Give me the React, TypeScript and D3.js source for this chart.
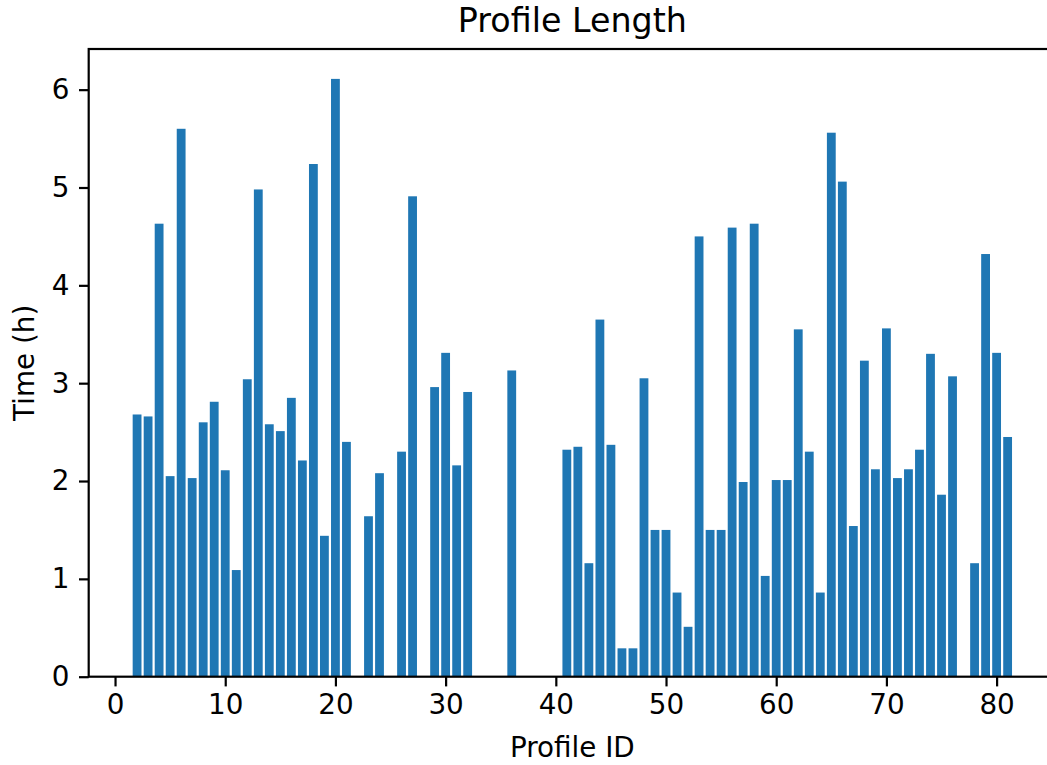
import React, { useRef, useEffect } from "react"
import * as d3 from "d3"

const chart_width = 1047
const chart_height = 765

// plot area (right edge runs a bit past the picture, like the reference)
const left = 88.7
const right = 1056
const top = 49
const bottom = 676.7

const profileIds = [
  2, 3, 4, 5, 6, 7, 8, 9, 10, 11, 12, 13, 14, 15, 16, 17, 18, 19, 20, 21,
  23, 24, 26, 27, 29, 30, 31, 32, 36,
  41, 42, 43, 44, 45, 46, 47, 48, 49, 50, 51, 52, 53, 54, 55, 56, 57, 58, 59, 60,
  61, 62, 63, 64, 65, 66, 67, 68, 69, 70, 71, 72, 73, 74, 75, 76, 78, 79, 80, 81,
]

const hours = [
  2.68, 2.66, 4.63, 2.05, 5.60, 2.03, 2.60, 2.81, 2.11, 1.09, 3.04, 4.98, 2.58, 2.51, 2.85, 2.21, 5.24, 1.44, 6.11, 2.40,
  1.64, 2.08, 2.30, 4.91, 2.96, 3.31, 2.16, 2.91, 3.13,
  2.32, 2.35, 1.16, 3.65, 2.37, 0.29, 0.29, 3.05, 1.50, 1.50, 0.86, 0.51, 4.50, 1.50, 1.50, 4.59, 1.99, 4.63, 1.03, 2.01,
  2.01, 3.55, 2.30, 0.86, 5.56, 5.06, 1.54, 3.23, 2.12, 3.56, 2.03, 2.12, 2.32, 3.30, 1.86, 3.07, 1.16, 4.32, 3.31, 2.45,
]

const xTicks = [0, 10, 20, 30, 40, 50, 60, 70, 80]
const yTicks = [0, 1, 2, 3, 4, 5, 6]

const barWidth = 0.8

const ProfileChart = () => {
  const d3Container = useRef(null)

  useEffect(() => {
    if (!d3Container.current) return
    const svg = d3.select(d3Container.current)
    svg.selectAll("*").remove()

    const data = profileIds.map((id, i) => [id, hours[i]])

    // matplotlib style 5% margins
    const xMin = d3.min(profileIds) - barWidth / 2
    const xMax = d3.max(profileIds) + barWidth / 2
    const xPad = (xMax - xMin) * 0.05
    const x_scale = d3
      .scaleLinear()
      .domain([xMin - xPad, xMax + xPad])
      .range([left, right])

    const yMax = d3.max(hours) * 1.05
    const y_scale = d3.scaleLinear().domain([0, yMax]).range([bottom, top])

    svg
      .append("g")
      .selectAll("rect")
      .data(data)
      .enter()
      .append("rect")
      .attr("x", d => x_scale(d[0] - barWidth / 2))
      .attr("width", d => x_scale(d[0] + barWidth / 2) - x_scale(d[0] - barWidth / 2))
      .attr("y", d => y_scale(d[1]))
      .attr("height", d => y_scale(0) - y_scale(d[1]))
      .attr("fill", "#1f77b4")

    const xAxis = d3
      .axisBottom(x_scale)
      .tickValues(xTicks)
      .tickFormat(d3.format("d"))
      .tickSize(9.7)
      .tickPadding(8)
      .tickSizeOuter(0)
    const yAxis = d3
      .axisLeft(y_scale)
      .tickValues(yTicks)
      .tickFormat(d3.format("d"))
      .tickSize(9.7)
      .tickPadding(9.5)
      .tickSizeOuter(0)

    const gx = svg
      .append("g")
      .attr("transform", "translate(0," + bottom + ")")
      .call(xAxis)
    const gy = svg
      .append("g")
      .attr("transform", "translate(" + left + ",0)")
      .call(yAxis)

    for (const g of [gx, gy]) {
      g.select(".domain").remove()
      g.selectAll("line").attr("stroke", "#000").attr("stroke-width", 2.2)
      g.selectAll("text")
        .attr("fill", "#000")
        .style("font-family", "DejaVu Sans")
        .style("font-size", "27.8px")
    }

    // spines
    svg
      .append("rect")
      .attr("x", left)
      .attr("y", top)
      .attr("width", right - left)
      .attr("height", bottom - top)
      .attr("fill", "none")
      .attr("stroke", "#000")
      .attr("stroke-width", 2.2)

    svg
      .append("text")
      .attr("x", (left + right) / 2)
      .attr("y", 32)
      .attr("text-anchor", "middle")
      .style("font-family", "DejaVu Sans")
      .style("font-size", "33.3px")
      .text("Profile Length")

    svg
      .append("text")
      .attr("x", (left + right) / 2)
      .attr("y", 757)
      .attr("text-anchor", "middle")
      .style("font-family", "DejaVu Sans")
      .style("font-size", "27.8px")
      .text("Profile ID")

    svg
      .append("text")
      .attr("transform", "translate(33.5," + (top + bottom) / 2 + ") rotate(-90)")
      .attr("text-anchor", "middle")
      .style("font-family", "DejaVu Sans")
      .style("font-size", "27.8px")
      .text("Time (h)")
  }, [])

  return (
    <div style={{ position: "absolute", left: 0, top: 0 }}>
      <svg width={chart_width} height={chart_height} ref={d3Container} style={{ display: "block" }} />
    </div>
  )
}

export default function App() {
  return <ProfileChart />
}
